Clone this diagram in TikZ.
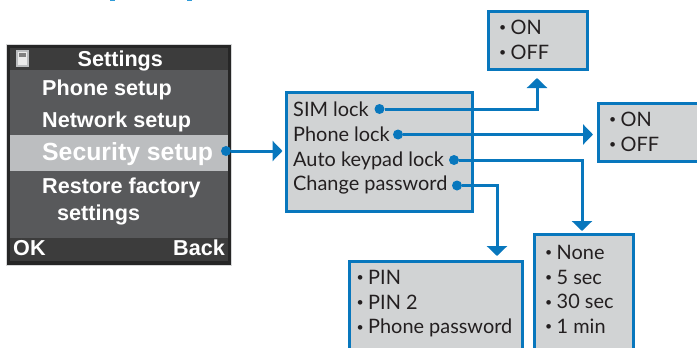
\documentclass[tikz,border=0pt]{standalone}
\usepackage{fontspec}
\setmainfont{Lato}
\newfontfamily\screenfont{Liberation Sans}
\usetikzlibrary{arrows.meta}
\definecolor{linkblue}{HTML}{0877BD}
\definecolor{headblue}{HTML}{2F9BD8}
\definecolor{boxgray}{HTML}{D1D3D4}
\definecolor{screengray}{HTML}{58595B}
\definecolor{bargray}{HTML}{3C3C3C}
\definecolor{rowgray}{HTML}{BCBEC0}
\definecolor{textdark}{HTML}{231F20}
\newcommand{\itm}{\raisebox{.28ex}{\scalebox{.62}{•}}\hspace{.22em}}
\tikzset{
    listbox/.style={draw=linkblue, line width=3pt, fill=boxgray, minimum width=#1, anchor=north west},
    listtext/.style={text=textdark, font=\fontsize{19.9}{24.7}\selectfont, align=left, anchor=north west, inner sep=0pt},
    menutext/.style={text=white, font=\screenfont\bfseries\fontsize{21.6}{24}\selectfont, anchor=base west, inner sep=0pt},
    linkdot/.style={circle, fill=linkblue, minimum size=10pt, inner sep=0pt},
    link/.style={draw=linkblue, line width=3pt, -{Triangle[length=10pt,width=20pt]}}
}
\begin{document}
\begin{tikzpicture}[x=1pt,y=-1pt]
    \useasboundingbox (0,0) rectangle (697,348);
    \clip (0,0) rectangle (697,348);
    % heading remains
    \fill[headblue] (110,0) rectangle (115,1.2);
    \fill[headblue] (187,0) rectangle (192,1.2);
    % phone screen
    \fill[rowgray!60!white] (6,43.5) rectangle (232,265.5);
    \fill[black!85] (7,44.5) rectangle (231,264.5);
    \fill[screengray] (10,48) rectangle (228,261);
    \fill[bargray] (10,48) rectangle (228,70);
    \fill[bargray] (10,238) rectangle (228,261);
    \fill[rowgray] (10,135) rectangle (228,171);
    \fill[rowgray] (16,50) rectangle (29,67);
    \fill[white!92!black] (18,52) rectangle (27,65);
    \fill[black!50] (19,53) rectangle (26,57);
    \node[menutext] (title) at (77.5,66) {Settings};
    \node[menutext] (phonesetup) at (42,95) {Phone setup};
    \node[menutext] (networksetup) at (42,127) {Network setup};
    \node[menutext, font=\screenfont\bfseries\fontsize{24.8}{24}\selectfont] (securitysetup) at (42,160) {Security setup};
    \node[menutext] (restore) at (42,193) {Restore factory};
    \node[menutext] (settingsline) at (57,220) {settings};
    \node[menutext] (ok) at (13,255.5) {OK};
    \node[menutext, anchor=base east] (back) at (225,255.5) {Back};
    % list boxes
    \node[listbox=186pt, minimum height=119pt] (menubox) at (285,91) {};
    \node[listbox=99pt, minimum height=58pt] (topbox) at (487,10) {};
    \node[listbox=110pt, minimum height=58pt] (rightbox) at (597,102) {};
    \node[listbox=173pt, minimum height=110pt] (pinbox) at (348,260) {};
    \node[listbox=99pt, minimum height=130pt] (timerbox) at (533,233) {};
    \node[listtext] (menutxt) at (293,102) {SIM lock\\Phone lock\\Auto keypad lock\\Change password};
    \node[listtext] (toptxt) at (499,20) {\itm ON\\\itm OFF};
    \node[listtext] (righttxt) at (609,112) {\itm ON\\\itm OFF};
    \node[listtext] (pintxt) at (356.5,270) {\itm PIN\\\itm PIN 2\\\itm Phone password};
    \node[listtext] (timertxt) at (545,245) {\itm None\\\itm 5 sec\\\itm 30 sec\\\itm 1 min};
    % dots
    \node[linkdot] (securitydot) at (226,151) {};
    \node[linkdot] (simdot) at (379.5,109) {};
    \node[linkdot] (phonedot) at (398,134.5) {};
    \node[linkdot] (autodot) at (454,160) {};
    \node[linkdot] (passworddot) at (457,185.5) {};
    % connectors
    \draw[link, shorten >=2.5pt] (securitydot) -- (securitydot -| menubox.west);
    \draw[link, shorten >=7pt] (simdot) -| ([xshift=-1pt]topbox.south);
    \draw[link, shorten >=4pt] (phonedot) -- (phonedot -| rightbox.west);
    \draw[link, shorten >=2pt] (autodot) -| ([xshift=-2pt]timerbox.north);
    \draw[link, shorten >=4pt] (passworddot) -| ([xshift=61pt]pinbox.north);
\end{tikzpicture}
\end{document}
